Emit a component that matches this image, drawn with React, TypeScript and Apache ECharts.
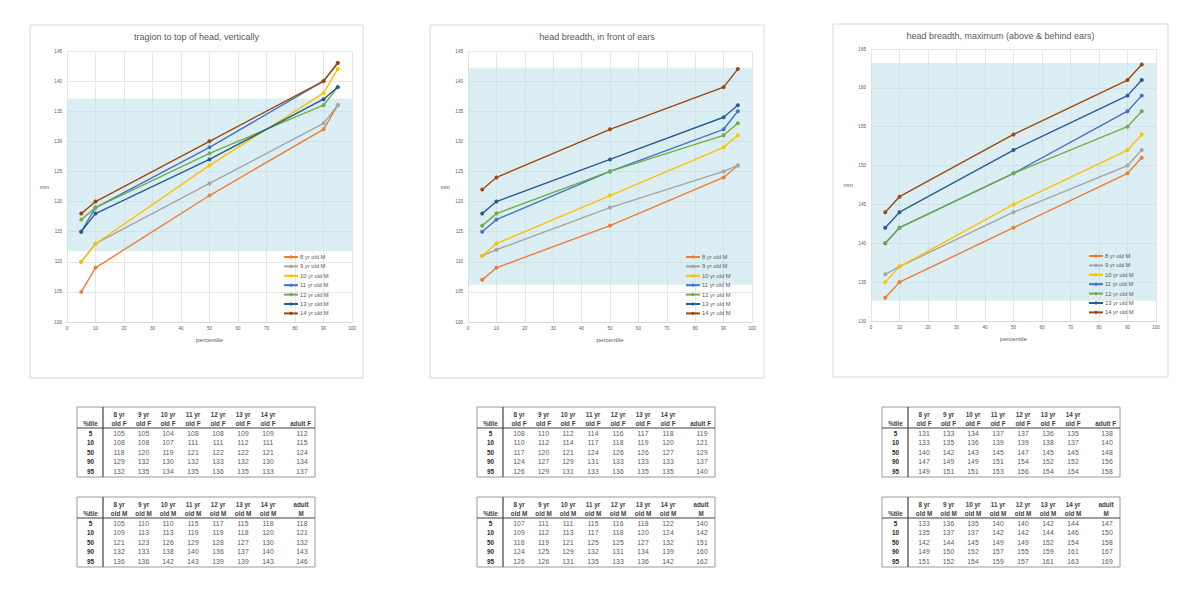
import React, { useEffect, useRef } from "react";
import * as echarts from "echarts";

// ---------- data ----------
const percentiles = [5, 10, 50, 90, 95];
const ageLabels = ["8 yr", "9 yr", "10 yr", "11 yr", "12 yr", "13 yr", "14 yr"];
const seriesNames = ["8 yr old M", "9 yr old M", "10 yr old M", "11 yr old M", "12 yr old M", "13 yr old M", "14 yr old M"];
const chartTitles = [
  "tragion to top of head, vertically",
  "head breadth, in front of ears",
  "head breadth, maximum (above & behind ears)",
];
const xTicks = [0, 100, 10];
const yRanges = [
  [100, 145, 5],
  [100, 145, 5],
  [130, 165, 5],
];
const bandLow = [111.8, 106.2, 132.6];
const bandHigh = [137.1, 142.2, 163.2];

// tragion to top of head (columns: age 8..14, values at percentiles 5,10,50,90,95)
const tragionF = [
  [105, 108, 118, 129, 132],
  [105, 108, 120, 132, 135],
  [104, 107, 119, 130, 134],
  [108, 111, 121, 132, 135],
  [108, 111, 122, 133, 136],
  [109, 112, 122, 132, 135],
  [109, 111, 121, 130, 133],
];
const tragionAdultF = [112, 115, 124, 134, 137];
const tragionM = [
  [105, 109, 121, 132, 136],
  [110, 113, 123, 133, 136],
  [110, 113, 126, 138, 142],
  [115, 119, 129, 140, 143],
  [117, 119, 128, 136, 139],
  [115, 118, 127, 137, 139],
  [118, 120, 130, 140, 143],
];
const tragionAdultM = [118, 121, 132, 143, 146];

// head breadth, in front of ears
const frontF = [
  [108, 110, 117, 124, 126],
  [110, 112, 120, 127, 129],
  [112, 114, 121, 129, 131],
  [114, 117, 124, 131, 133],
  [116, 118, 126, 133, 136],
  [117, 119, 126, 133, 135],
  [118, 120, 127, 133, 135],
];
const frontAdultF = [119, 121, 129, 137, 140];
const frontM = [
  [107, 109, 116, 124, 126],
  [111, 112, 119, 125, 126],
  [111, 113, 121, 129, 131],
  [115, 117, 125, 132, 135],
  [116, 118, 125, 131, 133],
  [118, 120, 127, 134, 136],
  [122, 124, 132, 139, 142],
];
const frontAdultM = [140, 142, 151, 160, 162];

// head breadth, maximum
const maxF = [
  [131, 133, 140, 147, 149],
  [133, 135, 142, 149, 151],
  [134, 136, 143, 149, 151],
  [137, 139, 145, 151, 153],
  [137, 139, 147, 154, 156],
  [136, 138, 145, 152, 154],
  [135, 137, 145, 152, 154],
];
const maxAdultF = [138, 140, 148, 156, 158];
const maxM = [
  [133, 135, 142, 149, 151],
  [136, 137, 144, 150, 152],
  [135, 137, 145, 152, 154],
  [140, 142, 149, 157, 159],
  [140, 142, 149, 155, 157],
  [142, 144, 152, 159, 161],
  [144, 146, 154, 161, 163],
];
const maxAdultM = [147, 150, 158, 167, 169];

const colors = ["#ED7D31", "#A5A5A5", "#FFC000", "#4472C4", "#70AD47", "#255E91", "#9E480E"];

// ---------- layout ----------
const boxes = [
  { x: 30, y: 25, w: 333, h: 353 },
  { x: 430, y: 25, w: 334, h: 353 },
  { x: 833, y: 24, w: 335, h: 353 },
];
const grids = [
  { left: 67, top: 51, width: 285, height: 271 },
  { left: 468, top: 51, width: 284, height: 271 },
  { left: 871, top: 49, width: 285, height: 272 },
];
const legendPos = [
  { left: 283, top: 254 },
  { left: 685, top: 254 },
  { left: 1088, top: 253 },
];
const tableLefts = [77, 477, 882];
const tableTopF = 407;
const tableTopM = 497;
const colX = [42, 66.5, 91, 116, 141, 166, 191];

const FONT = "'Liberation Sans', Arial, sans-serif";

function buildTable(left: number, top: number, cols: number[][], adult: number[], sex: string) {
  const els: any[] = [];
  const W = 238;
  const H = 70;
  els.push({
    type: "rect",
    shape: { x: left, y: top, width: W, height: H },
    style: { fill: "#ffffff", stroke: "#9a9a9a", lineWidth: 1 },
  });
  els.push({
    type: "line",
    shape: { x1: left, y1: top + 21, x2: left + W, y2: top + 21 },
    style: { stroke: "#404040", lineWidth: 1.2 },
  });
  els.push({
    type: "line",
    shape: { x1: left + 26, y1: top, x2: left + 26, y2: top + H },
    style: { stroke: "#404040", lineWidth: 1.2 },
  });
  const txt = (text: string, x: number, y: number, bold: boolean, color: string, align = "center") => ({
    type: "text",
    x,
    y,
    style: {
      text,
      fill: color,
      font: `${bold ? "bold " : ""}${bold ? 6.3 : 6.8}px ${FONT}`,
      align,
      textAlign: align,
      verticalAlign: "middle",
      textVerticalAlign: "middle",
    },
  });
  els.push(txt("%tile", left + 13.5, top + 16, true, "#404040"));
  ageLabels.forEach((a, i) => {
    els.push(txt(a, left + colX[i], top + 7, true, "#404040"));
    els.push(txt(`old ${sex}`, left + colX[i], top + 16, true, "#404040"));
  });
  if (sex === "F") {
    els.push(txt("adult F", left + 234, top + 16, true, "#404040", "right"));
  } else {
    els.push(txt("adult", left + 224, top + 7, true, "#404040"));
    els.push(txt("M", left + 224, top + 16, true, "#404040"));
  }
  percentiles.forEach((p, r) => {
    const y = top + 26.5 + r * 9.4;
    els.push(txt(String(p), left + 13.5, y, true, "#262626"));
    cols.forEach((c, i) => {
      els.push(txt(String(c[r]), left + colX[i], y, false, "#595959"));
    });
    els.push(txt(String(adult[r]), left + 225, y, false, "#595959"));
  });
  return els;
}

export default function App() {
  const ref = useRef<HTMLDivElement>(null);
  useEffect(() => {
    document.body.style.margin = "0";
    if (!ref.current) return;
    const chart = echarts.init(ref.current, undefined, { renderer: "svg" });
    const chartData = [tragionM, frontM, maxM];

    const xAxis = grids.map((_, i) => ({
      type: "value",
      gridIndex: i,
      min: xTicks[0],
      max: xTicks[1],
      interval: xTicks[2],
      name: "percentile",
      nameLocation: "middle",
      nameGap: 14,
      nameTextStyle: { fontSize: 6.2, color: "#595959", fontFamily: FONT },
      axisLine: { show: true, lineStyle: { color: "#d9d9d9", width: 1 } },
      axisTick: { show: false },
      axisLabel: { fontSize: 4.6, color: "#595959", margin: 4, fontFamily: FONT },
      splitLine: { show: true, lineStyle: { color: "#e6e6e6", width: 1 } },
    }));
    const yAxis = grids.map((_, i) => ({
      type: "value",
      gridIndex: i,
      min: yRanges[i][0],
      max: yRanges[i][1],
      interval: yRanges[i][2],
      name: "mm",
      nameLocation: "middle",
      nameRotate: 0,
      nameGap: 18,
      nameTextStyle: { fontSize: 5.6, color: "#595959", fontFamily: FONT },
      axisLine: { show: false },
      axisTick: { show: false },
      axisLabel: { fontSize: 4.6, color: "#595959", margin: 5, fontFamily: FONT },
      splitLine: { show: true, lineStyle: { color: "#e6e6e6", width: 1 } },
    }));

    const series: any[] = [];
    chartData.forEach((set, ci) => {
      set.forEach((vals, si) => {
        const s: any = {
          type: "line",
          name: seriesNames[si],
          xAxisIndex: ci,
          yAxisIndex: ci,
          data: percentiles.map((p, k) => [p, vals[k]]),
          symbol: "circle",
          symbolSize: 4,
          color: colors[si],
          lineStyle: { width: 1.4, color: colors[si] },
          itemStyle: { color: colors[si] },
          z: 3 + si,
        };
        if (si === 0) {
          s.markArea = {
            silent: true,
            itemStyle: { color: "rgba(183,222,234,0.5)" },
            data: [[{ yAxis: bandLow[ci] }, { yAxis: bandHigh[ci] }]],
          };
        }
        series.push(s);
      });
    });

    const legend = legendPos.map((p) => ({
      orient: "vertical",
      left: p.left,
      top: p.top,
      data: seriesNames,
      itemWidth: 14,
      itemHeight: 4,
      itemGap: 3.4,
      padding: 0,
      selectedMode: false,
      textStyle: { fontSize: 5.8, color: "#595959", fontFamily: FONT, padding: [0, 0, 0, -3] },
    }));

    const graphic: any[] = [];
    boxes.forEach((b, i) => {
      graphic.push({
        type: "rect",
        z: -10,
        shape: { x: b.x, y: b.y, width: b.w, height: b.h },
        style: { fill: "none", stroke: "#d9d9d9", lineWidth: 1 },
      });
      graphic.push({
        type: "text",
        x: b.x + b.w / 2,
        y: i === 2 ? 36 : 37,
        style: {
          text: chartTitles[i],
          fill: "#595959",
          font: `9px ${FONT}`,
          align: "center",
          textAlign: "center",
          verticalAlign: "middle",
          textVerticalAlign: "middle",
        },
      });
    });
    const tablesF = [
      [tragionF, tragionAdultF],
      [frontF, frontAdultF],
      [maxF, maxAdultF],
    ];
    const tablesM = [
      [tragionM, tragionAdultM],
      [frontM, frontAdultM],
      [maxM, maxAdultM],
    ];
    tableLefts.forEach((l, i) => {
      graphic.push(...buildTable(l, tableTopF, tablesF[i][0] as number[][], tablesF[i][1] as number[], "F"));
      graphic.push(...buildTable(l, tableTopM, tablesM[i][0] as number[][], tablesM[i][1] as number[], "M"));
    });

    chart.setOption({
      animation: false,
      backgroundColor: "#ffffff",
      textStyle: { fontFamily: FONT },
      grid: grids.map((g) => ({ ...g, containLabel: false })),
      xAxis,
      yAxis,
      legend,
      series,
      graphic: { elements: graphic },
    });
    return () => chart.dispose();
  }, []);
  return <div ref={ref} style={{ width: 1200, height: 599 }} />;
}
